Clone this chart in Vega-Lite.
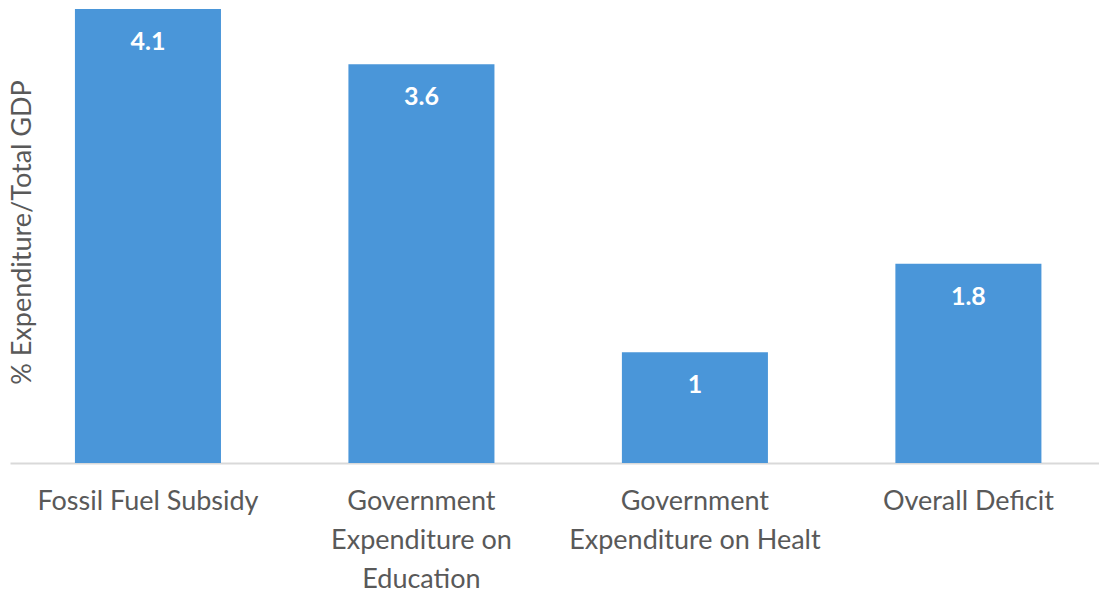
{
  "$schema": "https://vega.github.io/schema/vega-lite/v6.json",
  "autosize": "none",
  "width": 1089,
  "height": 454,
  "padding": {"left": 10, "top": 9, "right": 0, "bottom": 132},
  "background": "white",
  "config": {"view": {"stroke": null}, "font": "Lato"},
  "data": {
    "values": [
      {"category": "Fossil Fuel Subsidy", "value": 4.1},
      {"category": "Government Expenditure on Education", "value": 3.6},
      {"category": "Government Expenditure on Healt", "value": 1},
      {"category": "Overall Deficit", "value": 1.8}
    ]
  },
  "encoding": {
    "x": {
      "field": "category",
      "type": "nominal",
      "sort": null,
      "scale": {"paddingInner": 0.466, "paddingOuter": 0.224, "align": 0.53},
      "axis": {
        "title": null,
        "labelAngle": 0,
        "ticks": false,
        "domainColor": "#d9d9d9",
        "domainWidth": 2,
        "labelFont": "Lato",
        "labelFontSize": 27,
        "labelColor": "#595959",
        "labelPadding": 38,
        "labelLimit": 0,
        "labelLineHeight": 39,
        "labelBaseline": "middle",
        "labelExpr": "datum.label == 'Government Expenditure on Education' ? ['Government', 'Expenditure on', 'Education'] : datum.label == 'Government Expenditure on Healt' ? ['Government', 'Expenditure on Healt'] : datum.label"
      }
    },
    "y": {
      "field": "value",
      "type": "quantitative",
      "scale": {"domain": [0, 4.1], "nice": false},
      "axis": {
        "title": "% Expenditure/Total GDP",
        "domain": false,
        "ticks": false,
        "labels": false,
        "grid": false,
        "titleFont": "Lato",
        "titleFontSize": 27,
        "titleFontWeight": "normal",
        "titleColor": "#595959",
        "titleAngle": -90,
        "titleAlign": "center",
        "titleBaseline": "middle",
        "titleX": 12,
        "titleY": 223
      }
    }
  },
  "layer": [
    {"mark": {"type": "bar", "color": "#4A96D9"}},
    {
      "mark": {"type": "text", "color": "white", "fontWeight": "bold", "fontSize": 25, "font": "Lato", "baseline": "middle", "dy": 33},
      "encoding": {"text": {"field": "value", "type": "quantitative"}}
    }
  ]
}
